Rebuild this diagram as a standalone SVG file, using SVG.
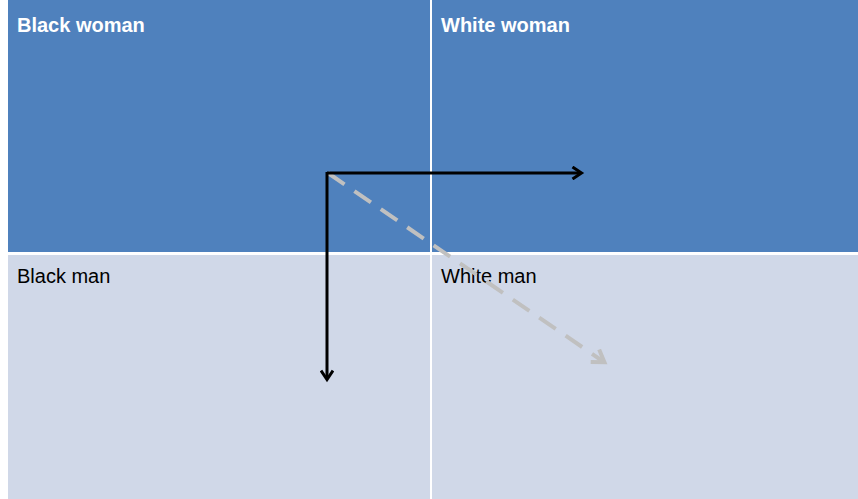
<svg xmlns="http://www.w3.org/2000/svg" width="858" height="499" viewBox="0 0 858 499">
<style>
.top{fill:#4F81BD}
.bot{fill:#D0D8E8}
.div{stroke:#FFFFFF;stroke-width:2}
.tb{font-family:"Liberation Sans",Arial,sans-serif;font-size:20px;font-weight:bold;fill:#FFFFFF}
.tr{font-family:"Liberation Sans",Arial,sans-serif;font-size:20px;fill:#000000}
.blk{stroke:#000000;stroke-width:3;fill:none}
.gry{stroke:#C0C0C0;stroke-width:4;fill:none;stroke-dasharray:20 12}
</style>
<defs>
<marker id="ab" markerWidth="14" markerHeight="14" refX="10" refY="7" orient="auto" markerUnits="userSpaceOnUse" viewBox="0 0 14 14">
<path d="M1.5,1 L10.5,7 L1.5,13" fill="none" stroke="#000000" stroke-width="3"/>
</marker>
<marker id="ag" markerWidth="18" markerHeight="18" refX="13" refY="9" orient="auto" markerUnits="userSpaceOnUse" viewBox="0 0 18 18">
<path d="M2,1.5 L13.5,9 L2,16.5" fill="none" stroke="#C0C0C0" stroke-width="4"/>
</marker>
</defs>
<rect width="858" height="499" fill="#FFFFFF"/>
<g id="black-woman">
<rect class="top" x="8" y="0" width="423" height="252"/>
<text class="tb" x="17" y="32">Black woman</text>
</g>
<g id="white-woman">
<rect class="top" x="431" y="0" width="427" height="252"/>
<text class="tb" x="441" y="32">White woman</text>
</g>
<g id="black-man">
<rect class="bot" x="8" y="255" width="423" height="244"/>
<text class="tr" x="17" y="283">Black man</text>
</g>
<g id="white-man">
<rect class="bot" x="431" y="255" width="427" height="244"/>
<text class="tr" x="441" y="283">White man</text>
</g>
<line class="div" x1="431" y1="0" x2="431" y2="499"/>
<g id="connectors">
<line class="gry" x1="328" y1="173" x2="604" y2="362" marker-end="url(#ag)"/>
<line class="blk" x1="327" y1="173" x2="581" y2="173" marker-end="url(#ab)"/>
<line class="blk" x1="327" y1="172" x2="327" y2="379" marker-end="url(#ab)"/>
</g>
</svg>
